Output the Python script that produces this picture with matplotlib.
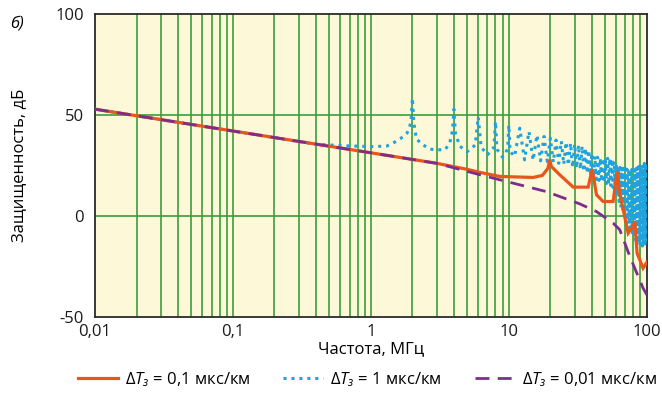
import numpy as np
import matplotlib
matplotlib.use("Agg")
import matplotlib.pyplot as plt
from matplotlib.ticker import FixedLocator, NullFormatter

plt.rcParams['font.family'] = ['Open Sans', 'DejaVu Sans']
plt.rcParams['mathtext.fontset'] = 'custom'
plt.rcParams['mathtext.rm'] = 'Open Sans'
plt.rcParams['mathtext.it'] = 'Open Sans:italic'

# ΔTз = 0,01 мкс/км (purple dashed)
f_001 = [0.01, 0.1, 1, 3, 6.2, 10.7, 18.7, 32.7, 43.2, 57, 63.7, 75.4, 94, 100]
a_001 = [52.8, 42.0, 31.2, 26.0, 20.3, 16.2, 12.0, 5.9, 2.1, -3.6, -6.9, -20.1, -35.8, -39.1]

# ΔTз = 0,1 мкс/км (orange solid)
f_01 = [0.01, 0.1, 1, 3, 5.0, 6.17, 8.6, 15.0, 17.5, 19.2, 19.8, 20.3, 23.4, 29.3, 37.6, 40.2, 43.2,
        48.2, 57, 61, 63.7, 73.3, 79, 81.9, 85.1, 94, 100]
a_01 = [52.8, 42.0, 31.2, 26.0, 23.0, 21.5, 19.5, 19.0, 20.0, 23.5, 27.7, 24.5, 20.3, 14.2, 14.2, 23.1, 10.4,
        7.1, 7.1, 21.9, 11.2, -8.6, -5.5, -2.8, -18.5, -25.9, -23.1]

# ΔTз = 1 мкс/км (blue dotted): smooth part + resonances
f_1_low = [0.01, 0.1, 0.4, 0.7, 1.0, 1.3, 1.49, 1.65, 1.83, 1.95, 2.0, 2.05, 2.14, 2.39, 2.68,
           3.0, 3.45, 3.73, 3.9, 4.0, 4.1, 4.4, 5.0, 5.7, 6.0, 6.3, 7.0, 7.8, 8.0, 8.2, 9.0,
           9.8, 10.0, 10.2, 11]
a_1_low = [52.8, 42.0, 35.4, 34.6, 34.3, 34.5, 36.5, 38.4, 41.0, 46.0, 58.3, 46.0, 38.0, 35.1, 33.0,
           32.7, 32.7, 36.0, 42.0, 52.8, 41.0, 34.5, 31.8, 35.0, 48.9, 34.0, 30.2, 34.0, 46.7, 33.0, 29.0,
           33.0, 45.0, 32.0, 29.4]
peak_f = [12, 14, 16, 18, 20, 22, 24, 26, 28, 30, 32, 34, 36, 38, 40, 42, 44, 46, 48, 50,
          52, 54, 56, 58, 60, 62, 64, 66, 68, 70, 72, 74, 76, 78, 80, 82, 84, 86, 88, 90,
          92, 94, 96, 98, 100]
peak_a = [43.4, 41.7, 40.0, 39.3, 38.5, 37.5, 37.0, 36.5, 36.0, 35.5, 35.0, 34.5, 33.5, 32.5, 31.0,
          29.5, 29.0, 28.5, 28.5, 28.5, 28.5, 28.5, 28.0, 27.0, 26.0, 24.5, 24.0, 23.5, 23.5, 23.5,
          23.0, 23.0, 23.0, 23.0, 23.0, 23.0, 23.5, 24.0, 24.5, 25.0, 25.0, 25.5, 26.0, 26.0, 26.0]
trough_f = [13, 15, 17, 19, 21, 23, 25, 27, 29, 31, 33, 35, 37, 39, 41, 43, 45, 47, 49, 51,
            53, 55, 57, 59, 61, 63, 65, 67, 69, 71, 73, 75, 77, 79, 81, 83, 85, 87, 89, 91,
            93, 95, 97, 99]
trough_a = [27.7, 27.5, 27.2, 26.9, 26.5, 26.0, 25.5, 25.0, 24.0, 23.5, 23.0, 22.0, 21.0, 20.0, 19.0,
            18.0, 17.5, 17.0, 16.5, 16.0, 15.5, 15.0, 14.0, 12.0, 10.0, 7.0, 4.0, 2.0, 0.0, -2.0,
            -4.0, -6.0, -8.0, -10.0, -11.0, -12.0, -13.0, -13.5, -14.0, -14.5, -15.0, -15.0, -14.0, -12.0]

hi = sorted(zip(peak_f + trough_f, peak_a + trough_a))
f_1 = f_1_low + [p[0] for p in hi]
a_1 = a_1_low + [p[1] for p in hi]

x_ticks = [0.01, 0.1, 1, 10, 100]
x_labels = ['0,01', '0,1', '1', '10', '100']
y_ticks = [-50, 0, 50, 100]

c_orange = '#e8561c'
c_blue = '#1ea3e0'
c_purple = '#7d2e8c'
c_grid = '#3d9c3d'

fig = plt.figure(figsize=(6.62, 3.96), dpi=100)
ax = fig.add_axes([0.1435, 0.2, 0.8335, 0.765])
ax.set_facecolor('#fdf8d8')
ax.set_xscale('log')
ax.set_xlim(0.01, 100)
ax.set_ylim(-50, 100)

minor = [m * 10.0 ** e for e in range(-2, 2) for m in range(2, 10)]
for v in minor + x_ticks[1:-1]:
    ax.axvline(v, color=c_grid, lw=1.2, zorder=1)
for v in [0, 50]:
    ax.axhline(v, color=c_grid, lw=1.2, zorder=1)

l1, = ax.plot(f_01, a_01, color=c_orange, lw=2.3, zorder=4, solid_joinstyle='miter')
l2, = ax.plot(f_1, a_1, color=c_blue, lw=2.2, ls=(0, (1, 1.6)), zorder=3)
l3, = ax.plot(f_001, a_001, color=c_purple, lw=2.0, ls=(0, (5, 3)), zorder=5)

ax.xaxis.set_major_locator(FixedLocator(x_ticks))
ax.xaxis.set_minor_locator(FixedLocator(minor))
ax.xaxis.set_minor_formatter(NullFormatter())
ax.set_xticklabels(x_labels)
ax.set_yticks(y_ticks)
ax.set_yticklabels(['-50', '0', '50', '100'])
ax.tick_params(axis='x', which='both', length=0, labelsize=12, pad=5, colors='#1a1a1a')
ax.tick_params(axis='y', which='both', length=0, labelsize=12, pad=8, colors='#1a1a1a')
for s in ax.spines.values():
    s.set_color('#2a2a2a')
    s.set_linewidth(1.3)

ax.set_xlabel('Частота, МГц', fontsize=12, labelpad=1)
ax.set_ylabel('Защищенность, дБ', fontsize=12, labelpad=20)
fig.text(0.015, 0.93, 'б)', fontsize=12, style='italic')

labels = [r'$\Delta\mathit{T}_{з}$ = 0,1 мкс/км',
          r'$\Delta\mathit{T}_{з}$ = 1 мкс/км',
          r'$\Delta\mathit{T}_{з}$ = 0,01 мкс/км']
fig.legend([l1, l2, l3], labels, loc='lower center', bbox_to_anchor=(0.555, -0.02),
           ncol=3, frameon=False, fontsize=12, handlelength=2.4, columnspacing=2.0,
           handletextpad=0.4)

fig.savefig('out.png', dpi=100)
